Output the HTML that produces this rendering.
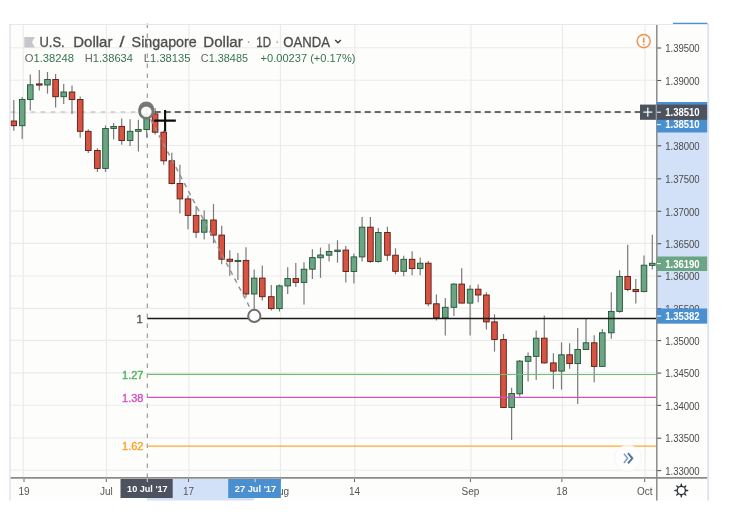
<!DOCTYPE html>
<html><head><meta charset="utf-8"><title>USDSGD</title>
<style>
html,body{margin:0;padding:0;background:#fff;}
body{width:737px;height:517px;overflow:hidden;font-family:"Liberation Sans",sans-serif;}
svg{display:block;position:absolute;left:0;top:0;filter:blur(0.3px);}
text{font-family:"Liberation Sans",sans-serif;}
.ax{font-size:10px;fill:#4a4a4a;}
.pb{font-size:10px;fill:#fff;font-weight:bold;}
.tm{font-size:10px;fill:#555;}
.tb{font-size:9.6px;fill:#fff;font-weight:bold;}
.fib{font-size:11px;stroke-width:0.35px;}
.tt{font-size:14px;fill:#4e4e4e;stroke:#4e4e4e;stroke-width:0.3px;}
.oh{font-size:10.5px;}
</style></head>
<body>
<svg width="737" height="517" viewBox="0 0 737 517">
<rect x="0" y="0" width="737" height="517" fill="#ffffff"/>
<rect x="10" y="24" width="697.5" height="476.5" fill="#fdfdfc"/>
<line x1="10" x2="657" y1="47.7" y2="47.7" stroke="#ebebec" stroke-width="1.1"/>
<line x1="10" x2="657" y1="80.3" y2="80.3" stroke="#ebebec" stroke-width="1.1"/>
<line x1="10" x2="657" y1="112.9" y2="112.9" stroke="#ebebec" stroke-width="1.1"/>
<line x1="10" x2="657" y1="145.5" y2="145.5" stroke="#ebebec" stroke-width="1.1"/>
<line x1="10" x2="657" y1="178.5" y2="178.5" stroke="#ebebec" stroke-width="1.1"/>
<line x1="10" x2="657" y1="211.1" y2="211.1" stroke="#ebebec" stroke-width="1.1"/>
<line x1="10" x2="657" y1="243.4" y2="243.4" stroke="#ebebec" stroke-width="1.1"/>
<line x1="10" x2="657" y1="276.0" y2="276.0" stroke="#ebebec" stroke-width="1.1"/>
<line x1="10" x2="657" y1="308.4" y2="308.4" stroke="#ebebec" stroke-width="1.1"/>
<line x1="10" x2="657" y1="340.4" y2="340.4" stroke="#ebebec" stroke-width="1.1"/>
<line x1="10" x2="657" y1="372.9" y2="372.9" stroke="#ebebec" stroke-width="1.1"/>
<line x1="10" x2="657" y1="405.2" y2="405.2" stroke="#ebebec" stroke-width="1.1"/>
<line x1="10" x2="657" y1="438.0" y2="438.0" stroke="#ebebec" stroke-width="1.1"/>
<line x1="10" x2="657" y1="470.3" y2="470.3" stroke="#ebebec" stroke-width="1.1"/>
<line x1="23.2" x2="23.2" y1="25" y2="477" stroke="#ebebec" stroke-width="1.2"/>
<line x1="106.5" x2="106.5" y1="25" y2="477" stroke="#ebebec" stroke-width="1.2"/>
<line x1="188.9" x2="188.9" y1="25" y2="477" stroke="#ebebec" stroke-width="1.2"/>
<line x1="280.5" x2="280.5" y1="25" y2="477" stroke="#ebebec" stroke-width="1.2"/>
<line x1="354.8" x2="354.8" y1="25" y2="477" stroke="#ebebec" stroke-width="1.2"/>
<line x1="471.0" x2="471.0" y1="25" y2="477" stroke="#ebebec" stroke-width="1.2"/>
<line x1="562.5" x2="562.5" y1="25" y2="477" stroke="#ebebec" stroke-width="1.2"/>
<line x1="645.1" x2="645.1" y1="25" y2="477" stroke="#ebebec" stroke-width="1.2"/>
<rect x="657" y="102" width="50.5" height="221.5" fill="#d3e1f8"/>
<line x1="657" x2="661.2" y1="48.0" y2="48.0" stroke="#555" stroke-width="1.1"/>
<text x="665.2" y="52.2" class="ax" textLength="34.5" lengthAdjust="spacingAndGlyphs">1.39500</text>
<line x1="657" x2="661.2" y1="80.5" y2="80.5" stroke="#555" stroke-width="1.1"/>
<text x="665.2" y="84.8" class="ax" textLength="34.5" lengthAdjust="spacingAndGlyphs">1.39000</text>
<line x1="657" x2="661.2" y1="145.8" y2="145.8" stroke="#555" stroke-width="1.1"/>
<text x="665.2" y="149.9" class="ax" textLength="34.5" lengthAdjust="spacingAndGlyphs">1.38000</text>
<line x1="657" x2="661.2" y1="178.8" y2="178.8" stroke="#555" stroke-width="1.1"/>
<text x="665.2" y="182.9" class="ax" textLength="34.5" lengthAdjust="spacingAndGlyphs">1.37500</text>
<line x1="657" x2="661.2" y1="211.3" y2="211.3" stroke="#555" stroke-width="1.1"/>
<text x="665.2" y="215.5" class="ax" textLength="34.5" lengthAdjust="spacingAndGlyphs">1.37000</text>
<line x1="657" x2="661.2" y1="243.7" y2="243.7" stroke="#555" stroke-width="1.1"/>
<text x="665.2" y="247.8" class="ax" textLength="34.5" lengthAdjust="spacingAndGlyphs">1.36500</text>
<line x1="657" x2="661.2" y1="276.2" y2="276.2" stroke="#555" stroke-width="1.1"/>
<text x="665.2" y="280.4" class="ax" textLength="34.5" lengthAdjust="spacingAndGlyphs">1.36000</text>
<line x1="657" x2="661.2" y1="308.6" y2="308.6" stroke="#555" stroke-width="1.1"/>
<text x="665.2" y="312.8" class="ax" textLength="34.5" lengthAdjust="spacingAndGlyphs">1.35500</text>
<line x1="657" x2="661.2" y1="340.6" y2="340.6" stroke="#555" stroke-width="1.1"/>
<text x="665.2" y="344.8" class="ax" textLength="34.5" lengthAdjust="spacingAndGlyphs">1.35000</text>
<line x1="657" x2="661.2" y1="373.1" y2="373.1" stroke="#555" stroke-width="1.1"/>
<text x="665.2" y="377.3" class="ax" textLength="34.5" lengthAdjust="spacingAndGlyphs">1.34500</text>
<line x1="657" x2="661.2" y1="405.4" y2="405.4" stroke="#555" stroke-width="1.1"/>
<text x="665.2" y="409.6" class="ax" textLength="34.5" lengthAdjust="spacingAndGlyphs">1.34000</text>
<line x1="657" x2="661.2" y1="438.2" y2="438.2" stroke="#555" stroke-width="1.1"/>
<text x="665.2" y="442.4" class="ax" textLength="34.5" lengthAdjust="spacingAndGlyphs">1.33500</text>
<line x1="657" x2="661.2" y1="470.6" y2="470.6" stroke="#555" stroke-width="1.1"/>
<text x="665.2" y="474.8" class="ax" textLength="34.5" lengthAdjust="spacingAndGlyphs">1.33000</text>
<line x1="10.7" x2="139" y1="112" y2="112" stroke="#b2b2b2" stroke-width="1.15" stroke-dasharray="4.6,5.4"/>
<line x1="147.3" x2="147.3" y1="23.5" y2="478" stroke="#929292" stroke-width="1.1" stroke-dasharray="4.4,5.6"/>
<line x1="13.8" x2="13.8" y1="99.9" y2="130.8" stroke="#7b7b7d" stroke-width="1.2"/>
<rect x="11.00" y="121.0" width="5.6" height="4.7" fill="#d75442" stroke="#5b1a13" stroke-width="0.9"/>
<line x1="22.2" x2="22.2" y1="97.1" y2="138.9" stroke="#7b7b7d" stroke-width="1.2"/>
<rect x="19.40" y="99.5" width="5.6" height="26.2" fill="#6ba583" stroke="#225437" stroke-width="0.9"/>
<line x1="30.3" x2="30.3" y1="74.4" y2="110.6" stroke="#7b7b7d" stroke-width="1.2"/>
<rect x="27.50" y="84.8" width="5.6" height="14.7" fill="#6ba583" stroke="#225437" stroke-width="0.9"/>
<line x1="39.3" x2="39.3" y1="70.0" y2="90.6" stroke="#7b7b7d" stroke-width="1.2"/>
<rect x="36.50" y="83.9" width="5.6" height="1.2" fill="#d75442" stroke="#5b1a13" stroke-width="0.9"/>
<line x1="47.5" x2="47.5" y1="72.0" y2="93.7" stroke="#7b7b7d" stroke-width="1.2"/>
<rect x="44.70" y="79.5" width="5.6" height="5.5" fill="#6ba583" stroke="#225437" stroke-width="0.9"/>
<line x1="55.6" x2="55.6" y1="74.0" y2="107.6" stroke="#7b7b7d" stroke-width="1.2"/>
<rect x="52.80" y="79.5" width="5.6" height="17.2" fill="#d75442" stroke="#5b1a13" stroke-width="0.9"/>
<line x1="63.7" x2="63.7" y1="83.9" y2="104.1" stroke="#7b7b7d" stroke-width="1.2"/>
<rect x="60.90" y="92.0" width="5.6" height="4.7" fill="#6ba583" stroke="#225437" stroke-width="0.9"/>
<line x1="72.0" x2="72.0" y1="85.5" y2="113.9" stroke="#7b7b7d" stroke-width="1.2"/>
<rect x="69.20" y="92.0" width="5.6" height="7.5" fill="#d75442" stroke="#5b1a13" stroke-width="0.9"/>
<line x1="80.2" x2="80.2" y1="96.4" y2="137.8" stroke="#7b7b7d" stroke-width="1.2"/>
<rect x="77.40" y="99.5" width="5.6" height="31.8" fill="#d75442" stroke="#5b1a13" stroke-width="0.9"/>
<line x1="88.3" x2="88.3" y1="129.2" y2="152.9" stroke="#7b7b7d" stroke-width="1.2"/>
<rect x="85.50" y="131.3" width="5.6" height="19.2" fill="#d75442" stroke="#5b1a13" stroke-width="0.9"/>
<line x1="97.4" x2="97.4" y1="148.2" y2="171.9" stroke="#7b7b7d" stroke-width="1.2"/>
<rect x="94.60" y="150.5" width="5.6" height="17.9" fill="#d75442" stroke="#5b1a13" stroke-width="0.9"/>
<line x1="105.5" x2="105.5" y1="125.5" y2="171.9" stroke="#7b7b7d" stroke-width="1.2"/>
<rect x="102.70" y="128.5" width="5.6" height="39.9" fill="#6ba583" stroke="#225437" stroke-width="0.9"/>
<line x1="113.6" x2="113.6" y1="123.1" y2="139.6" stroke="#7b7b7d" stroke-width="1.2"/>
<rect x="110.80" y="126.4" width="5.6" height="2.1" fill="#6ba583" stroke="#225437" stroke-width="0.9"/>
<line x1="121.7" x2="121.7" y1="118.5" y2="144.7" stroke="#7b7b7d" stroke-width="1.2"/>
<rect x="118.90" y="126.4" width="5.6" height="14.1" fill="#d75442" stroke="#5b1a13" stroke-width="0.9"/>
<line x1="130.1" x2="130.1" y1="119.2" y2="145.9" stroke="#7b7b7d" stroke-width="1.2"/>
<rect x="127.30" y="131.3" width="5.6" height="9.2" fill="#6ba583" stroke="#225437" stroke-width="0.9"/>
<line x1="138.4" x2="138.4" y1="119.7" y2="151.5" stroke="#7b7b7d" stroke-width="1.2"/>
<rect x="135.60" y="129.5" width="5.6" height="1.8" fill="#6ba583" stroke="#225437" stroke-width="0.9"/>
<line x1="146.7" x2="146.7" y1="104.6" y2="137.4" stroke="#7b7b7d" stroke-width="1.2"/>
<rect x="143.90" y="114.3" width="5.6" height="15.3" fill="#6ba583" stroke="#225437" stroke-width="0.9"/>
<line x1="155.1" x2="155.1" y1="108.0" y2="134.6" stroke="#7b7b7d" stroke-width="1.2"/>
<rect x="152.30" y="113.9" width="5.6" height="18.3" fill="#d75442" stroke="#5b1a13" stroke-width="0.9"/>
<line x1="163.7" x2="163.7" y1="130.5" y2="164.7" stroke="#7b7b7d" stroke-width="1.2"/>
<rect x="160.90" y="132.2" width="5.6" height="28.6" fill="#d75442" stroke="#5b1a13" stroke-width="0.9"/>
<line x1="171.8" x2="171.8" y1="152.7" y2="184.5" stroke="#7b7b7d" stroke-width="1.2"/>
<rect x="169.00" y="160.8" width="5.6" height="22.7" fill="#d75442" stroke="#5b1a13" stroke-width="0.9"/>
<line x1="179.9" x2="179.9" y1="164.7" y2="213.4" stroke="#7b7b7d" stroke-width="1.2"/>
<rect x="177.10" y="183.5" width="5.6" height="15.4" fill="#d75442" stroke="#5b1a13" stroke-width="0.9"/>
<line x1="188.0" x2="188.0" y1="195.6" y2="229.3" stroke="#7b7b7d" stroke-width="1.2"/>
<rect x="185.20" y="198.9" width="5.6" height="16.5" fill="#d75442" stroke="#5b1a13" stroke-width="0.9"/>
<line x1="196.1" x2="196.1" y1="206.1" y2="238.0" stroke="#7b7b7d" stroke-width="1.2"/>
<rect x="193.30" y="215.4" width="5.6" height="16.8" fill="#d75442" stroke="#5b1a13" stroke-width="0.9"/>
<line x1="204.2" x2="204.2" y1="210.5" y2="239.5" stroke="#7b7b7d" stroke-width="1.2"/>
<rect x="201.40" y="220.0" width="5.6" height="12.2" fill="#6ba583" stroke="#225437" stroke-width="0.9"/>
<line x1="213.5" x2="213.5" y1="204.1" y2="243.3" stroke="#7b7b7d" stroke-width="1.2"/>
<rect x="210.70" y="220.0" width="5.6" height="15.1" fill="#d75442" stroke="#5b1a13" stroke-width="0.9"/>
<line x1="221.7" x2="221.7" y1="225.8" y2="264.2" stroke="#7b7b7d" stroke-width="1.2"/>
<rect x="218.90" y="235.1" width="5.6" height="24.1" fill="#d75442" stroke="#5b1a13" stroke-width="0.9"/>
<line x1="229.8" x2="229.8" y1="250.2" y2="275.8" stroke="#7b7b7d" stroke-width="1.2"/>
<rect x="227.00" y="259.2" width="5.6" height="2.1" fill="#d75442" stroke="#5b1a13" stroke-width="0.9"/>
<line x1="237.9" x2="237.9" y1="253.1" y2="280.1" stroke="#7b7b7d" stroke-width="1.2"/>
<rect x="235.10" y="260.4" width="5.6" height="1.2" fill="#6ba583" stroke="#225437" stroke-width="0.9"/>
<line x1="246.0" x2="246.0" y1="247.3" y2="297.5" stroke="#7b7b7d" stroke-width="1.2"/>
<rect x="243.20" y="260.4" width="5.6" height="33.6" fill="#d75442" stroke="#5b1a13" stroke-width="0.9"/>
<line x1="254.2" x2="254.2" y1="269.4" y2="309.0" stroke="#7b7b7d" stroke-width="1.2"/>
<rect x="251.40" y="278.1" width="5.6" height="15.9" fill="#6ba583" stroke="#225437" stroke-width="0.9"/>
<line x1="262.3" x2="262.3" y1="265.6" y2="300.4" stroke="#7b7b7d" stroke-width="1.2"/>
<rect x="259.50" y="278.1" width="5.6" height="18.6" fill="#d75442" stroke="#5b1a13" stroke-width="0.9"/>
<line x1="271.3" x2="271.3" y1="285.0" y2="310.6" stroke="#7b7b7d" stroke-width="1.2"/>
<rect x="268.50" y="296.7" width="5.6" height="11.9" fill="#d75442" stroke="#5b1a13" stroke-width="0.9"/>
<line x1="279.4" x2="279.4" y1="284.5" y2="311.5" stroke="#7b7b7d" stroke-width="1.2"/>
<rect x="276.60" y="285.9" width="5.6" height="22.7" fill="#6ba583" stroke="#225437" stroke-width="0.9"/>
<line x1="287.7" x2="287.7" y1="267.2" y2="294.0" stroke="#7b7b7d" stroke-width="1.2"/>
<rect x="284.90" y="278.6" width="5.6" height="7.3" fill="#6ba583" stroke="#225437" stroke-width="0.9"/>
<line x1="295.8" x2="295.8" y1="263.0" y2="287.0" stroke="#7b7b7d" stroke-width="1.2"/>
<rect x="293.00" y="278.6" width="5.6" height="3.8" fill="#d75442" stroke="#5b1a13" stroke-width="0.9"/>
<line x1="304.0" x2="304.0" y1="262.2" y2="304.5" stroke="#7b7b7d" stroke-width="1.2"/>
<rect x="301.20" y="269.2" width="5.6" height="13.2" fill="#6ba583" stroke="#225437" stroke-width="0.9"/>
<line x1="312.4" x2="312.4" y1="249.2" y2="278.9" stroke="#7b7b7d" stroke-width="1.2"/>
<rect x="309.60" y="257.6" width="5.6" height="11.6" fill="#6ba583" stroke="#225437" stroke-width="0.9"/>
<line x1="320.5" x2="320.5" y1="247.6" y2="277.8" stroke="#7b7b7d" stroke-width="1.2"/>
<rect x="317.70" y="255.0" width="5.6" height="2.8" fill="#6ba583" stroke="#225437" stroke-width="0.9"/>
<line x1="329.1" x2="329.1" y1="244.1" y2="261.5" stroke="#7b7b7d" stroke-width="1.2"/>
<rect x="326.30" y="251.5" width="5.6" height="3.7" fill="#6ba583" stroke="#225437" stroke-width="0.9"/>
<line x1="337.5" x2="337.5" y1="240.2" y2="262.7" stroke="#7b7b7d" stroke-width="1.2"/>
<rect x="334.70" y="250.1" width="5.6" height="1.4" fill="#6ba583" stroke="#225437" stroke-width="0.9"/>
<line x1="345.8" x2="345.8" y1="246.0" y2="282.4" stroke="#7b7b7d" stroke-width="1.2"/>
<rect x="343.00" y="250.1" width="5.6" height="21.4" fill="#d75442" stroke="#5b1a13" stroke-width="0.9"/>
<line x1="353.9" x2="353.9" y1="253.4" y2="283.6" stroke="#7b7b7d" stroke-width="1.2"/>
<rect x="351.10" y="256.9" width="5.6" height="14.6" fill="#6ba583" stroke="#225437" stroke-width="0.9"/>
<line x1="362.1" x2="362.1" y1="216.9" y2="261.5" stroke="#7b7b7d" stroke-width="1.2"/>
<rect x="359.30" y="227.2" width="5.6" height="29.7" fill="#6ba583" stroke="#225437" stroke-width="0.9"/>
<line x1="370.4" x2="370.4" y1="216.9" y2="262.7" stroke="#7b7b7d" stroke-width="1.2"/>
<rect x="367.60" y="227.2" width="5.6" height="34.3" fill="#d75442" stroke="#5b1a13" stroke-width="0.9"/>
<line x1="378.3" x2="378.3" y1="227.9" y2="262.7" stroke="#7b7b7d" stroke-width="1.2"/>
<rect x="375.50" y="232.5" width="5.6" height="29.0" fill="#6ba583" stroke="#225437" stroke-width="0.9"/>
<line x1="387.4" x2="387.4" y1="226.7" y2="260.8" stroke="#7b7b7d" stroke-width="1.2"/>
<rect x="384.60" y="232.5" width="5.6" height="22.7" fill="#d75442" stroke="#5b1a13" stroke-width="0.9"/>
<line x1="395.5" x2="395.5" y1="248.3" y2="274.3" stroke="#7b7b7d" stroke-width="1.2"/>
<rect x="392.70" y="255.2" width="5.6" height="16.1" fill="#d75442" stroke="#5b1a13" stroke-width="0.9"/>
<line x1="403.7" x2="403.7" y1="255.8" y2="276.3" stroke="#7b7b7d" stroke-width="1.2"/>
<rect x="400.90" y="259.3" width="5.6" height="12.0" fill="#6ba583" stroke="#225437" stroke-width="0.9"/>
<line x1="412.1" x2="412.1" y1="251.2" y2="275.3" stroke="#7b7b7d" stroke-width="1.2"/>
<rect x="409.30" y="259.3" width="5.6" height="9.3" fill="#d75442" stroke="#5b1a13" stroke-width="0.9"/>
<line x1="420.2" x2="420.2" y1="257.4" y2="275.3" stroke="#7b7b7d" stroke-width="1.2"/>
<rect x="417.40" y="263.2" width="5.6" height="5.4" fill="#6ba583" stroke="#225437" stroke-width="0.9"/>
<line x1="428.3" x2="428.3" y1="260.9" y2="306.2" stroke="#7b7b7d" stroke-width="1.2"/>
<rect x="425.50" y="263.2" width="5.6" height="40.6" fill="#d75442" stroke="#5b1a13" stroke-width="0.9"/>
<line x1="436.4" x2="436.4" y1="294.5" y2="320.5" stroke="#7b7b7d" stroke-width="1.2"/>
<rect x="433.60" y="303.8" width="5.6" height="14.0" fill="#d75442" stroke="#5b1a13" stroke-width="0.9"/>
<line x1="445.3" x2="445.3" y1="298.0" y2="335.6" stroke="#7b7b7d" stroke-width="1.2"/>
<rect x="442.50" y="307.3" width="5.6" height="10.5" fill="#6ba583" stroke="#225437" stroke-width="0.9"/>
<line x1="453.9" x2="453.9" y1="282.9" y2="315.9" stroke="#7b7b7d" stroke-width="1.2"/>
<rect x="451.10" y="284.1" width="5.6" height="23.2" fill="#6ba583" stroke="#225437" stroke-width="0.9"/>
<line x1="461.7" x2="461.7" y1="268.3" y2="303.1" stroke="#7b7b7d" stroke-width="1.2"/>
<rect x="458.90" y="284.1" width="5.6" height="19.0" fill="#d75442" stroke="#5b1a13" stroke-width="0.9"/>
<line x1="470.1" x2="470.1" y1="285.3" y2="335.6" stroke="#7b7b7d" stroke-width="1.2"/>
<rect x="467.30" y="289.2" width="5.6" height="13.9" fill="#6ba583" stroke="#225437" stroke-width="0.9"/>
<line x1="478.2" x2="478.2" y1="284.6" y2="302.2" stroke="#7b7b7d" stroke-width="1.2"/>
<rect x="475.40" y="289.2" width="5.6" height="5.8" fill="#d75442" stroke="#5b1a13" stroke-width="0.9"/>
<line x1="486.4" x2="486.4" y1="292.2" y2="329.4" stroke="#7b7b7d" stroke-width="1.2"/>
<rect x="483.60" y="295.0" width="5.6" height="26.9" fill="#d75442" stroke="#5b1a13" stroke-width="0.9"/>
<line x1="494.5" x2="494.5" y1="314.3" y2="351.6" stroke="#7b7b7d" stroke-width="1.2"/>
<rect x="491.70" y="321.9" width="5.6" height="17.6" fill="#d75442" stroke="#5b1a13" stroke-width="0.9"/>
<line x1="503.5" x2="503.5" y1="334.0" y2="407.5" stroke="#7b7b7d" stroke-width="1.2"/>
<rect x="500.70" y="339.5" width="5.6" height="68.0" fill="#d75442" stroke="#5b1a13" stroke-width="0.9"/>
<line x1="511.6" x2="511.6" y1="387.7" y2="440.0" stroke="#7b7b7d" stroke-width="1.2"/>
<rect x="508.80" y="393.5" width="5.6" height="14.0" fill="#6ba583" stroke="#225437" stroke-width="0.9"/>
<line x1="519.7" x2="519.7" y1="359.9" y2="396.6" stroke="#7b7b7d" stroke-width="1.2"/>
<rect x="516.90" y="361.1" width="5.6" height="32.7" fill="#6ba583" stroke="#225437" stroke-width="0.9"/>
<line x1="528.1" x2="528.1" y1="352.5" y2="381.5" stroke="#7b7b7d" stroke-width="1.2"/>
<rect x="525.30" y="356.4" width="5.6" height="4.9" fill="#6ba583" stroke="#225437" stroke-width="0.9"/>
<line x1="536.2" x2="536.2" y1="330.5" y2="379.9" stroke="#7b7b7d" stroke-width="1.2"/>
<rect x="533.40" y="338.2" width="5.6" height="18.2" fill="#6ba583" stroke="#225437" stroke-width="0.9"/>
<line x1="544.3" x2="544.3" y1="315.5" y2="363.6" stroke="#7b7b7d" stroke-width="1.2"/>
<rect x="541.50" y="338.2" width="5.6" height="24.7" fill="#d75442" stroke="#5b1a13" stroke-width="0.9"/>
<line x1="553.4" x2="553.4" y1="353.2" y2="388.9" stroke="#7b7b7d" stroke-width="1.2"/>
<rect x="550.60" y="362.9" width="5.6" height="8.2" fill="#d75442" stroke="#5b1a13" stroke-width="0.9"/>
<line x1="561.5" x2="561.5" y1="342.4" y2="389.6" stroke="#7b7b7d" stroke-width="1.2"/>
<rect x="558.70" y="354.8" width="5.6" height="16.3" fill="#6ba583" stroke="#225437" stroke-width="0.9"/>
<line x1="569.6" x2="569.6" y1="343.3" y2="368.7" stroke="#7b7b7d" stroke-width="1.2"/>
<rect x="566.80" y="354.8" width="5.6" height="8.8" fill="#d75442" stroke="#5b1a13" stroke-width="0.9"/>
<line x1="577.7" x2="577.7" y1="328.0" y2="404.0" stroke="#7b7b7d" stroke-width="1.2"/>
<rect x="574.90" y="349.5" width="5.6" height="14.1" fill="#6ba583" stroke="#225437" stroke-width="0.9"/>
<line x1="586.0" x2="586.0" y1="319.0" y2="349.5" stroke="#7b7b7d" stroke-width="1.2"/>
<rect x="583.20" y="342.8" width="5.6" height="6.7" fill="#6ba583" stroke="#225437" stroke-width="0.9"/>
<line x1="594.2" x2="594.2" y1="335.2" y2="382.2" stroke="#7b7b7d" stroke-width="1.2"/>
<rect x="591.40" y="342.8" width="5.6" height="23.6" fill="#d75442" stroke="#5b1a13" stroke-width="0.9"/>
<line x1="602.3" x2="602.3" y1="329.1" y2="366.4" stroke="#7b7b7d" stroke-width="1.2"/>
<rect x="599.50" y="332.8" width="5.6" height="33.6" fill="#6ba583" stroke="#225437" stroke-width="0.9"/>
<line x1="611.3" x2="611.3" y1="292.3" y2="338.8" stroke="#7b7b7d" stroke-width="1.2"/>
<rect x="608.50" y="311.4" width="5.6" height="21.4" fill="#6ba583" stroke="#225437" stroke-width="0.9"/>
<line x1="619.6" x2="619.6" y1="270.3" y2="312.7" stroke="#7b7b7d" stroke-width="1.2"/>
<rect x="616.80" y="276.5" width="5.6" height="34.9" fill="#6ba583" stroke="#225437" stroke-width="0.9"/>
<line x1="627.7" x2="627.7" y1="244.7" y2="291.2" stroke="#7b7b7d" stroke-width="1.2"/>
<rect x="624.90" y="276.5" width="5.6" height="13.0" fill="#d75442" stroke="#5b1a13" stroke-width="0.9"/>
<line x1="635.8" x2="635.8" y1="279.1" y2="303.5" stroke="#7b7b7d" stroke-width="1.2"/>
<rect x="633.00" y="289.5" width="5.6" height="2.1" fill="#d75442" stroke="#5b1a13" stroke-width="0.9"/>
<line x1="644.0" x2="644.0" y1="255.6" y2="292.3" stroke="#7b7b7d" stroke-width="1.2"/>
<rect x="641.20" y="265.2" width="5.6" height="26.4" fill="#6ba583" stroke="#225437" stroke-width="0.9"/>
<line x1="652.3" x2="652.3" y1="234.7" y2="269.6" stroke="#7b7b7d" stroke-width="1.2"/>
<rect x="649.50" y="263.3" width="5.6" height="2.1" fill="#6ba583" stroke="#225437" stroke-width="0.9"/>
<line x1="147.3" x2="656" y1="318.45" y2="318.4" stroke="#1a1a1a" stroke-width="1.45"/>
<line x1="147.3" x2="656" y1="374.4" y2="374.5" stroke="#6cc070" stroke-width="1.15"/>
<line x1="147.3" x2="656" y1="397.4" y2="397.4" stroke="#d24fc4" stroke-width="1.15"/>
<line x1="147.3" x2="656" y1="446.1" y2="446.1" stroke="#ffa733" stroke-width="1.25"/>
<text x="142.5" y="322.6" class="fib" text-anchor="end" fill="#555" stroke="#555">1</text>
<text x="143.5" y="378.6" class="fib" text-anchor="end" fill="#4db052" stroke="#4db052">1.27</text>
<text x="143.5" y="401.5" class="fib" text-anchor="end" fill="#d24fc4" stroke="#d24fc4">1.38</text>
<text x="143.5" y="450.2" class="fib" text-anchor="end" fill="#ffa026" stroke="#ffa026">1.62</text>
<line x1="146.4" y1="111.5" x2="254.3" y2="315.9" stroke="#949494" stroke-width="1.5" stroke-dasharray="4.6,4.4"/>
<line x1="154.7" x2="640" y1="112" y2="112" stroke="#3a3a3a" stroke-width="1.5" stroke-dasharray="6,4"/>
<circle cx="146.3" cy="109.4" r="6.65" fill="none" stroke="#7a7a7a" stroke-width="2.7"/>
<circle cx="146.3" cy="111.7" r="6.65" fill="#fdfdfd" fill-opacity="0.9" stroke="#767676" stroke-width="2.7"/>
<circle cx="254.3" cy="315.9" r="6.1" fill="#fdfdfd" stroke="#6e6e6e" stroke-width="2"/>
<path d="M153.9 120.65H175.85M165.1 110.1V131.6" stroke="#0c0c0c" stroke-width="2.1" fill="none"/>
<line x1="656.8" x2="656.8" y1="24" y2="500.5" stroke="#8b8b8b" stroke-width="1.5"/>
<line x1="10" x2="707.5" y1="477.8" y2="477.8" stroke="#8b8b8b" stroke-width="1.7"/>
<rect x="147" y="479" width="107" height="21.5" fill="#d3e1f8"/>
<line x1="24" x2="24" y1="479" y2="482" stroke="#666" stroke-width="1"/>
<text x="24" y="495.2" class="tm" text-anchor="middle">19</text>
<line x1="106.3" x2="106.3" y1="479" y2="482" stroke="#666" stroke-width="1"/>
<text x="106.3" y="495.2" class="tm" text-anchor="middle">Jul</text>
<line x1="188.5" x2="188.5" y1="479" y2="482" stroke="#666" stroke-width="1"/>
<text x="188.5" y="495.2" class="tm" text-anchor="middle">17</text>
<line x1="280.3" x2="280.3" y1="479" y2="482" stroke="#666" stroke-width="1"/>
<text x="280.3" y="495.2" class="tm" text-anchor="middle">Aug</text>
<line x1="354.5" x2="354.5" y1="479" y2="482" stroke="#666" stroke-width="1"/>
<text x="354.5" y="495.2" class="tm" text-anchor="middle">14</text>
<line x1="470.4" x2="470.4" y1="479" y2="482" stroke="#666" stroke-width="1"/>
<text x="470.4" y="495.2" class="tm" text-anchor="middle">Sep</text>
<line x1="561.9" x2="561.9" y1="479" y2="482" stroke="#666" stroke-width="1"/>
<text x="561.9" y="495.2" class="tm" text-anchor="middle">18</text>
<line x1="644.7" x2="644.7" y1="479" y2="482" stroke="#666" stroke-width="1"/>
<text x="644.7" y="495.2" class="tm" text-anchor="middle">Oct</text>
<rect x="120.5" y="479" width="52.2" height="19" fill="#4c525e"/>
<line x1="147.3" x2="147.3" y1="479" y2="482" stroke="#ddd" stroke-width="1"/>
<text x="147.4" y="492.2" class="tb" text-anchor="middle" textLength="40.6" lengthAdjust="spacingAndGlyphs">10 Jul '17</text>
<rect x="228.2" y="479" width="52.7" height="19" fill="#4a8fd0"/>
<line x1="255.2" x2="255.2" y1="479" y2="482" stroke="#ddd" stroke-width="1"/>
<text x="255.5" y="492.2" class="tb" text-anchor="middle" textLength="41.4" lengthAdjust="spacingAndGlyphs">27 Jul '17</text>
<rect x="657" y="102" width="50.5" height="30.5" fill="#4a8fd0"/>
<line x1="657" x2="661" y1="124.6" y2="124.6" stroke="#fff" stroke-width="1"/>
<text x="665.2" y="128.3" class="pb" textLength="34.5" lengthAdjust="spacingAndGlyphs">1.38510</text>
<rect x="640" y="104.6" width="67.5" height="15.2" fill="#4c525e"/>
<line x1="656.3" x2="656.3" y1="104.6" y2="119.8" stroke="#9a9da5" stroke-width="1.2"/>
<path d="M643.3 112.2H652.3M647.8 107.6V116.8" stroke="#f4f4f4" stroke-width="1.3" fill="none"/>
<line x1="657" x2="661" y1="112.2" y2="112.2" stroke="#fff" stroke-width="1"/>
<text x="665.2" y="116" class="pb" textLength="34.5" lengthAdjust="spacingAndGlyphs">1.38510</text>
<rect x="657" y="256.5" width="50.5" height="14.5" fill="#6ba583"/>
<line x1="657" x2="661" y1="263.6" y2="263.6" stroke="#fff" stroke-width="1"/>
<text x="665.2" y="267.5" class="pb" textLength="34.5" lengthAdjust="spacingAndGlyphs">1.36190</text>
<rect x="657" y="308.5" width="50.5" height="15.1" fill="#4a8fd0"/>
<line x1="657" x2="661" y1="316" y2="316" stroke="#fff" stroke-width="1"/>
<text x="665.2" y="320" class="pb" textLength="34.5" lengthAdjust="spacingAndGlyphs">1.35382</text>
<line x1="673" x2="707.5" y1="23.8" y2="23.8" stroke="#4a90e2" stroke-width="2"/>
<circle cx="643.7" cy="41.1" r="6.6" fill="none" stroke="#f0914a" stroke-width="1.4"/>
<path d="M643.7 37.6V42.8" stroke="#f0914a" stroke-width="1.5" fill="none"/>
<circle cx="643.7" cy="44.6" r="0.9" fill="#f0914a"/>
<circle cx="627.9" cy="458.3" r="13.3" fill="#fefefe" fill-opacity="0.8" stroke="#f1f1f1" stroke-opacity="0.6" stroke-width="1"/>
<path d="M623.9 453.6L627.6 458.3L623.9 463" stroke="#7f9bbb" stroke-width="1.5" fill="none"/>
<path d="M628 453.2L632.3 458.3L628 463.4" stroke="#52779f" stroke-width="2" fill="none"/>
<circle cx="681.3" cy="490.5" r="4.1" fill="none" stroke="#2a2e39" stroke-width="1.3"/>
<path d="M685.90 491.50L688.30 490.95L688.30 490.05L685.90 489.50Z" fill="#2a2e39"/>
<path d="M683.85 494.46L685.93 495.77L686.57 495.13L685.26 493.05Z" fill="#2a2e39"/>
<path d="M680.30 495.10L680.85 497.50L681.75 497.50L682.30 495.10Z" fill="#2a2e39"/>
<path d="M677.34 493.05L676.03 495.13L676.67 495.77L678.75 494.46Z" fill="#2a2e39"/>
<path d="M676.70 489.50L674.30 490.05L674.30 490.95L676.70 491.50Z" fill="#2a2e39"/>
<path d="M678.75 486.54L676.67 485.23L676.03 485.87L677.34 487.95Z" fill="#2a2e39"/>
<path d="M682.30 485.90L681.75 483.50L680.85 483.50L680.30 485.90Z" fill="#2a2e39"/>
<path d="M685.26 487.95L686.57 485.87L685.93 485.23L683.85 486.54Z" fill="#2a2e39"/>
<path d="M24.3 37H35L32 42.2L35 47.4H24.3Z" fill="#c6c7cc"/>
<text x="39.4" y="46.5" class="tt" textLength="25.3" lengthAdjust="spacingAndGlyphs">U.S.</text>
<text x="73.3" y="46.5" class="tt" textLength="39.1" lengthAdjust="spacingAndGlyphs">Dollar</text>
<text x="119.4" y="46.5" class="tt" textLength="5" lengthAdjust="spacingAndGlyphs">/</text>
<text x="131.6" y="46.5" class="tt" textLength="65.2" lengthAdjust="spacingAndGlyphs">Singapore</text>
<text x="203.3" y="46.5" class="tt" textLength="39.4" lengthAdjust="spacingAndGlyphs">Dollar</text>
<circle cx="248.6" cy="42.1" r="0.85" fill="#9a9a9a"/>
<text x="256.2" y="46.5" class="tt" textLength="14.8" lengthAdjust="spacingAndGlyphs">1D</text>
<circle cx="277.2" cy="42.1" r="0.85" fill="#9a9a9a"/>
<text x="283.3" y="46.5" class="tt" textLength="46.7" lengthAdjust="spacingAndGlyphs">OANDA</text>
<path d="M335.2 40.1L338 42.8L340.8 40.1" stroke="#3c3c3c" stroke-width="1.4" fill="none"/>
<text x="24.8" y="62.3" class="oh" textLength="49.2" lengthAdjust="spacingAndGlyphs"><tspan fill="#666">O</tspan><tspan fill="#37734f">1.38248</tspan></text>
<text x="84.7" y="62.3" class="oh" textLength="48.3" lengthAdjust="spacingAndGlyphs"><tspan fill="#666">H</tspan><tspan fill="#37734f">1.38634</tspan></text>
<text x="143.8" y="62.3" class="oh" textLength="46.8" lengthAdjust="spacingAndGlyphs"><tspan fill="#666">L</tspan><tspan fill="#37734f">1.38135</tspan></text>
<text x="200.8" y="62.3" class="oh" textLength="47.2" lengthAdjust="spacingAndGlyphs"><tspan fill="#666">C</tspan><tspan fill="#37734f">1.38485</tspan></text>
<text x="260.5" y="62.3" class="oh" fill="#37734f" textLength="95" lengthAdjust="spacingAndGlyphs">+0.00237 (+0.17%)</text>
<line x1="10" x2="707.5" y1="24.5" y2="24.5" stroke="#e5e7ef" stroke-width="1"/>
<line x1="10" x2="10" y1="24" y2="500.5" stroke="#dde2f3" stroke-width="1.4"/>
<line x1="708.2" x2="708.2" y1="24" y2="500.5" stroke="#dbe1f3" stroke-width="1.8"/>
</svg>
</body></html>
